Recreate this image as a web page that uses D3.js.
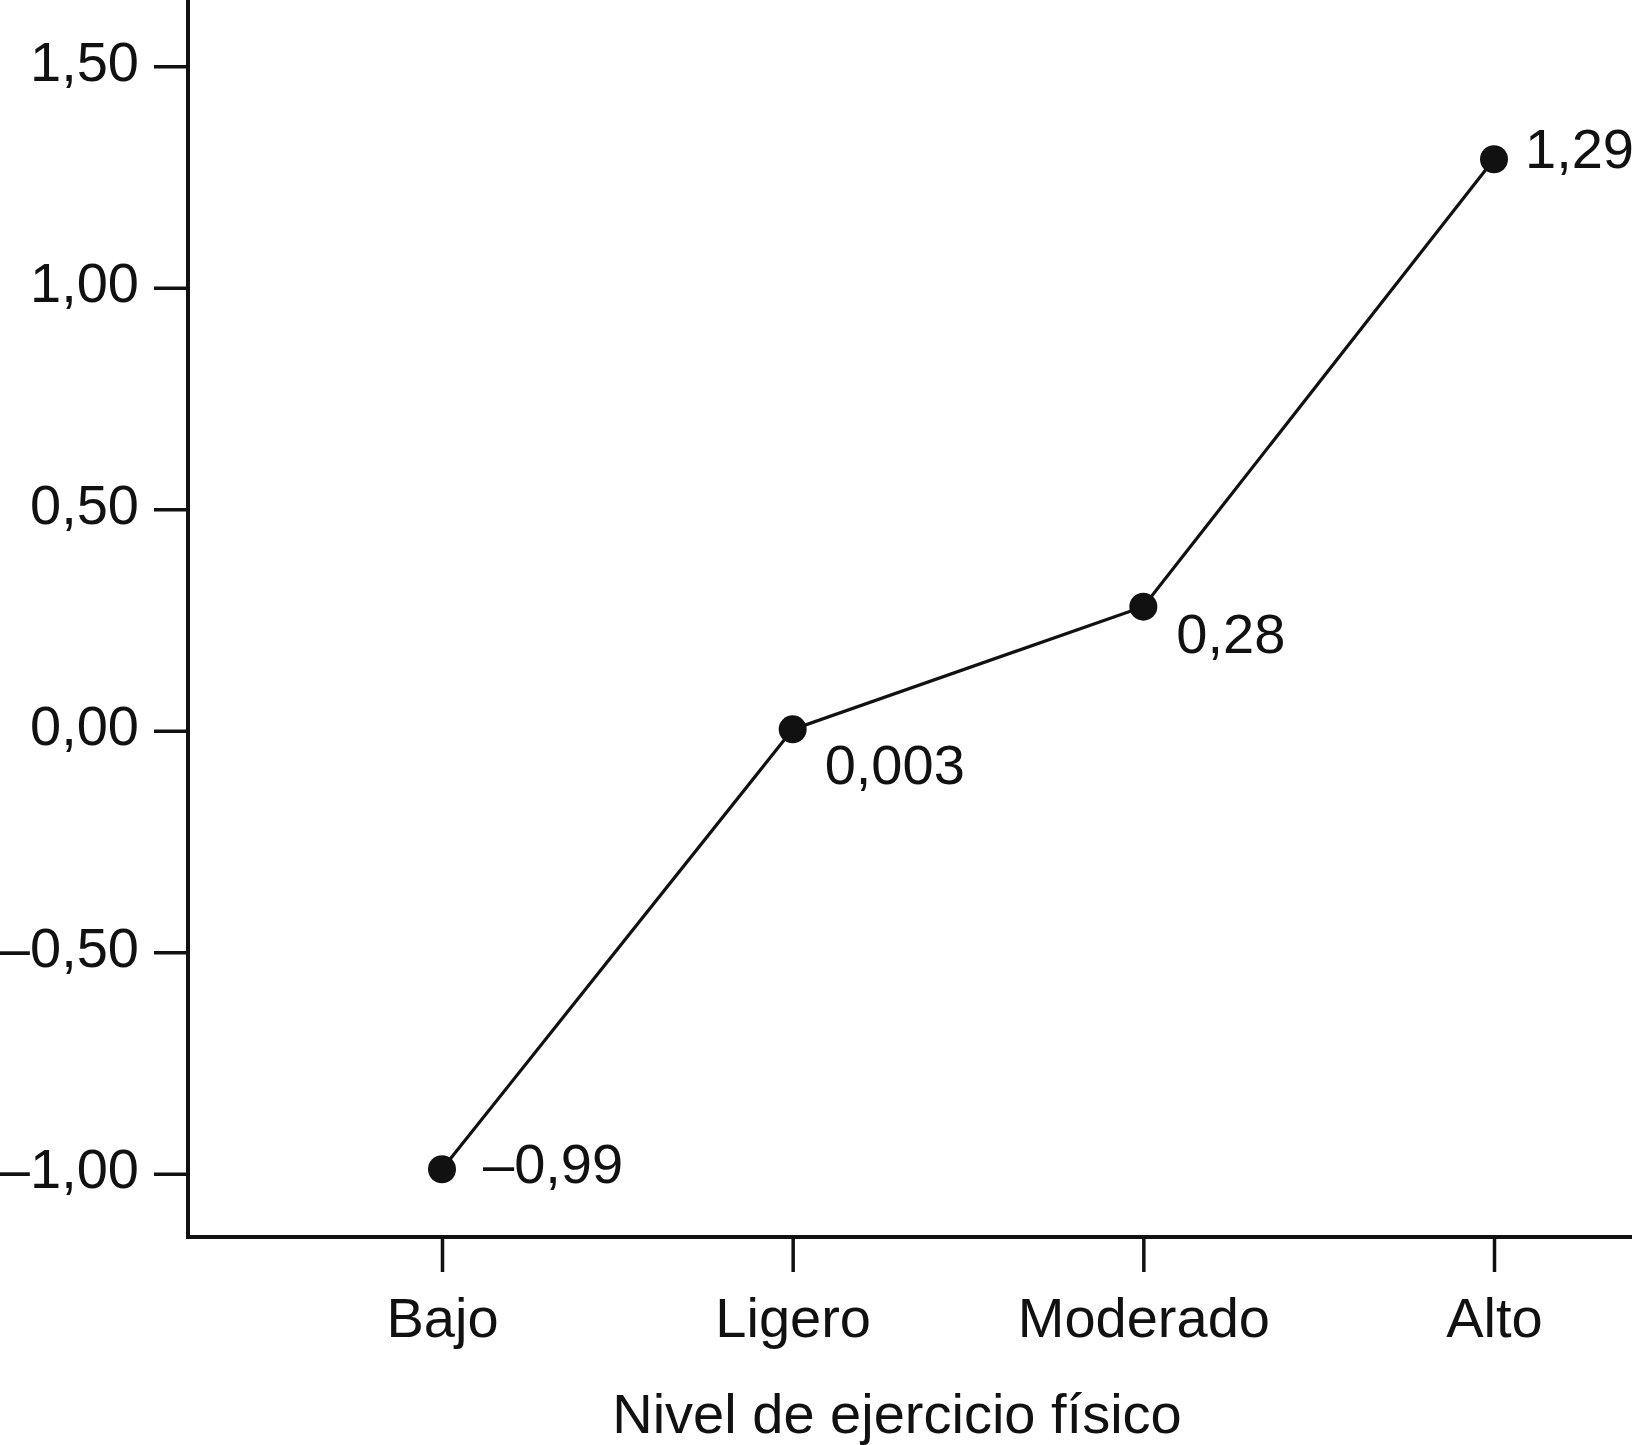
<!DOCTYPE html>
<html>
<head>
<meta charset="utf-8">
<script src="https://cdn.jsdelivr.net/npm/d3@7"></script>
<style>
  html, body { margin: 0; padding: 0; background: #fff; }
  svg { display: block; }
  text { font-family: "Liberation Sans", Arial, Helvetica, sans-serif; fill: #111; }
</style>
</head>
<body>
<script>
// ---- Data ----
const categories = ["Bajo", "Ligero", "Moderado", "Alto"];
const values = [-0.99, 0.003, 0.28, 1.29];
const valueLabels = ["\u20130,99", "0,003", "0,28", "1,29"];
const yTicks = [-1.0, -0.5, 0.0, 0.5, 1.0, 1.5];
const yTickLabels = ["\u20131,00", "\u20130,50", "0,00", "0,50", "1,00", "1,50"];
const xTitle = "Nivel de ejercicio f\u00edsico";

// ---- Layout ----
const W = 1637, H = 1445;
const axisX = 188, axisY = 1237, axisRight = 1632;
const fontSize = 56;
const ink = "#111";
// label offsets (dx, baseline dy) relative to each dot
const labelOffsets = [[41, 14], [32, 55], [33, 46], [31, 9]];

const svg = d3.select("body").append("svg")
  .attr("width", W).attr("height", H);

const y = d3.scaleLinear().domain([-1, 1.5]).range([1173.7, 66.2]);
const x = d3.scalePoint().domain(categories).range([442, 1494]);

// Y axis
const gy = svg.append("g")
  .attr("transform", `translate(${axisX},0)`)
  .call(d3.axisLeft(y)
    .tickValues(yTicks)
    .tickFormat((d, i) => yTickLabels[i])
    .tickSizeInner(34).tickSizeOuter(0).tickPadding(15));
gy.select(".domain").remove();
gy.selectAll(".tick line").attr("stroke", ink).attr("stroke-width", 3.5);
gy.selectAll(".tick text")
  .attr("font-size", fontSize)
  .attr("dy", "0.25em")
  .attr("fill", ink);

// X axis
const gx = svg.append("g")
  .attr("transform", `translate(0,${axisY})`)
  .call(d3.axisBottom(x)
    .tickSizeInner(35).tickSizeOuter(0).tickPadding(25));
gx.select(".domain").remove();
gx.selectAll(".tick line").attr("stroke", ink).attr("stroke-width", 3.5);
gx.selectAll(".tick text")
  .attr("font-size", fontSize)
  .attr("fill", ink);

// Axis lines
svg.append("line")
  .attr("x1", axisX).attr("x2", axisX)
  .attr("y1", 0).attr("y2", axisY + 2)
  .attr("stroke", ink).attr("stroke-width", 4);
svg.append("line")
  .attr("x1", axisX - 2).attr("x2", axisRight)
  .attr("y1", axisY).attr("y2", axisY)
  .attr("stroke", ink).attr("stroke-width", 4);

// X axis title
svg.append("text")
  .attr("x", 897).attr("y", 1433)
  .attr("text-anchor", "middle")
  .attr("font-size", fontSize)
  .attr("fill", ink)
  .text(xTitle);

// Data line
const pts = categories.map((c, i) => ({ c, v: values[i], label: valueLabels[i], off: labelOffsets[i] }));
svg.append("path")
  .datum(pts)
  .attr("fill", "none")
  .attr("stroke", ink)
  .attr("stroke-width", 3.2)
  .attr("d", d3.line().x(d => x(d.c)).y(d => y(d.v)));

svg.selectAll("circle.dot")
  .data(pts).enter().append("circle")
  .attr("class", "dot")
  .attr("cx", d => x(d.c)).attr("cy", d => y(d.v))
  .attr("r", 14)
  .attr("fill", ink);

svg.selectAll("text.vlab")
  .data(pts).enter().append("text")
  .attr("class", "vlab")
  .attr("x", d => x(d.c) + d.off[0])
  .attr("y", d => y(d.v) + d.off[1])
  .attr("font-size", fontSize)
  .attr("fill", ink)
  .text(d => d.label);
</script>
</body>
</html>
